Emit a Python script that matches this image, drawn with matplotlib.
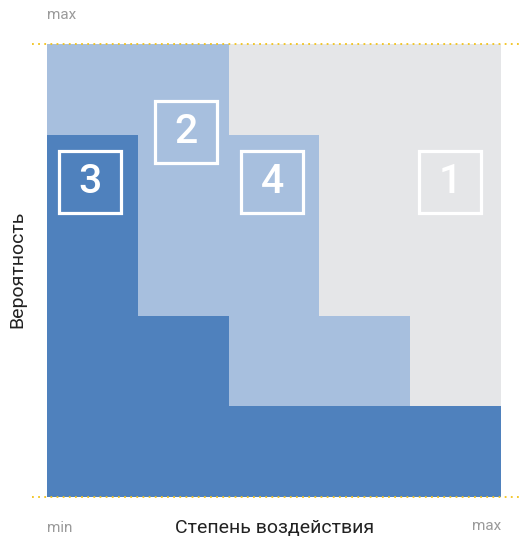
import matplotlib
matplotlib.use("Agg")
import matplotlib.pyplot as plt
from matplotlib.lines import Line2D
from matplotlib.patches import Rectangle

plt.rcParams["font.family"] = ["Roboto", "DejaVu Sans"]

# Risk matrix: 5 impact columns, probability level (0..5) of each zone boundary
columns = [0, 1, 2, 3, 4]
dark_top = [4, 2, 1, 1, 1]       # zone 3
light_top = [5, 5, 4, 2, 1]      # zones 2 and 4
gray_top = [5, 5, 5, 5, 5]       # zone 1

zone_labels = ["3", "2", "4", "1"]
label_x = [0.47, 1.53, 2.48, 4.44]
label_y = [3.48, 4.03, 3.48, 3.48]

dark = "#4f81bd"
light = "#a7bfde"
gray = "#e5e6e8"

fig = plt.figure(figsize=(5.23, 5.37), dpi=100)
ax = fig.add_axes([47 / 523, 40 / 537, 454 / 523, 453 / 537])

light_h = [t - b for t, b in zip(light_top, dark_top)]
gray_h = [t - b for t, b in zip(gray_top, light_top)]
ax.bar(columns, dark_top, width=1, align="edge", color=dark, linewidth=0)
ax.bar(columns, light_h, bottom=dark_top, width=1, align="edge", color=light, linewidth=0)
ax.bar(columns, gray_h, bottom=light_top, width=1, align="edge", color=gray, linewidth=0)

size = 0.68
for lab, x, y in zip(zone_labels, label_x, label_y):
    ax.add_patch(Rectangle((x - size / 2, y - size / 2), size, size,
                           fill=False, edgecolor="white", linewidth=2.3))
    ax.text(x, y, lab, color="white", fontsize=29.5, fontweight="medium",
            ha="center", va="center")

ax.set_xlim(0, 5)
ax.set_ylim(0, 5)
ax.axis("off")

# yellow dotted border lines
for yy in (497, 44):
    fy = 1 - yy / 537
    fig.add_artist(Line2D([32 / 523, 1], [fy, fy], color="#f2c31b",
                          linewidth=1.3, linestyle=(0, (1, 2.4))))

grey_txt = "#9a9a9a"
fig.text(47 / 523, 1 - 15 / 537, "max", color=grey_txt, fontsize=11, va="center", ha="left")
fig.text(47 / 523, 1 - 528 / 537, "min", color=grey_txt, fontsize=11, va="center", ha="left")
fig.text(501 / 523, 1 - 526 / 537, "max", color=grey_txt, fontsize=11, va="center", ha="right")
fig.text(275 / 523, 1 - 528 / 537, "Степень воздействия", color="#222222",
         fontsize=14, va="center", ha="center")
fig.text(17 / 523, 1 - 269 / 537, "Вероятность", color="#222222",
         fontsize=14, va="center", ha="center", rotation=90)

fig.savefig("out.png", dpi=100)
